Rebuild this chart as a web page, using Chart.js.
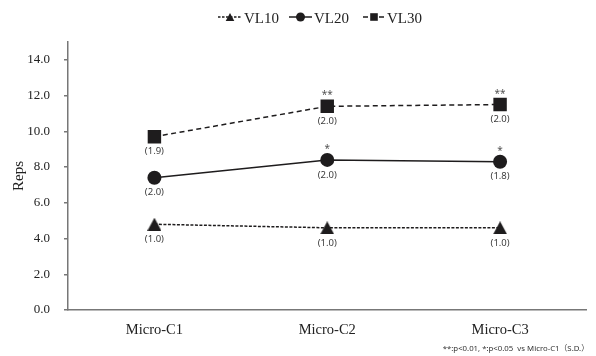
<!DOCTYPE html>
<html>
<head>
<meta charset="utf-8">
<script src="https://cdn.jsdelivr.net/npm/chart.js@4.4.0/dist/chart.umd.min.js"></script>
<style>
    html, body { margin: 0; padding: 0; background: #fff; }
    #wrap { width: 596px; height: 356px; }
</style>
</head>
<body>
<div id="wrap"><canvas id="chart"></canvas></div>
<script>
const categories = ['Micro-C1', 'Micro-C2', 'Micro-C3'];
const seriesNames = ['VL10', 'VL20', 'VL30'];
const vl10 = [4.8, 4.6, 4.6];
const vl20 = [7.4, 8.4, 8.3];
const vl30 = [9.7, 11.4, 11.5];
const sd10 = ['1.0', '1.0', '1.0'];
const sd20 = ['2.0', '2.0', '1.8'];
const sd30 = ['1.9', '2.0', '2.0'];
const sig10 = ['', '', ''];
const sig20 = ['', '*', '*'];
const sig30 = ['', '**', '**'];
const yTicks = [0, 2, 4, 6, 8, 10, 12, 14];
const footnote = '**:p<0.01, *:p<0.05  vs Micro-C1\uFF08S.D.\uFF09';

const ink = '#1e1c1d';
const serif = '"Liberation Serif", "DejaVu Serif", serif';
const sans = '"Noto Sans", "Noto Sans CJK JP", sans-serif';

// triangle centred on its bounding box, like the spreadsheet marker
function makeTriangle(w, h) {
    const c = document.createElement('canvas');
    c.width = w;
    c.height = h;
    const g = c.getContext('2d');
    g.fillStyle = ink;
    g.beginPath();
    g.moveTo(w / 2, 0);
    g.lineTo(w, h);
    g.lineTo(0, h);
    g.closePath();
    g.fill();
    return c;
}
const triBig = makeTriangle(14, 13);

const annotations = [
    { sd: sd10, sig: sig10 },
    { sd: sd20, sig: sig20 },
    { sd: sd30, sig: sig30 }
];

const pointLabels = {
    id: 'pointLabels',
    afterDatasetsDraw(chart) {
        const ctx = chart.ctx;
        ctx.save();
        ctx.textAlign = 'center';
        annotations.forEach((a, di) => {
            const meta = chart.getDatasetMeta(di);
            meta.data.forEach((pt, i) => {
                ctx.fillStyle = '#3c3c3c';
                ctx.font = '9.5px ' + sans;
                ctx.textBaseline = 'middle';
                ctx.fillText('(' + a.sd[i] + ')', pt.x, pt.y + 15);
                if (a.sig[i]) {
                    ctx.font = '10px ' + sans;
                    ctx.fillStyle = '#555';
                    ctx.textBaseline = 'alphabetic';
                    ctx.fillText(a.sig[i], pt.x, pt.y - 8);
                }
            });
        });
        ctx.restore();
    }
};

const legendAndNote = {
    id: 'legendAndNote',
    afterDraw(chart) {
        const ctx = chart.ctx;
        const y = 17;
        const items = [
            { x: 218, w: 24, dash: [2.5, 1.5], marker: 'tri' },
            { x: 289, w: 23, dash: [], marker: 'circle' },
            { x: 363, w: 22, dash: [5, 3], marker: 'rect' }
        ];
        ctx.save();
        items.forEach((it, i) => {
            ctx.strokeStyle = ink;
            ctx.lineWidth = 1.5;
            ctx.setLineDash(it.dash);
            ctx.beginPath();
            ctx.moveTo(it.x, y);
            ctx.lineTo(it.x + it.w, y);
            ctx.stroke();
            ctx.setLineDash([]);
            const cx = it.x + it.w / 2;
            ctx.fillStyle = ink;
            ctx.beginPath();
            if (it.marker === 'tri') {
                ctx.moveTo(cx, y - 4);
                ctx.lineTo(cx + 4.3, y + 4);
                ctx.lineTo(cx - 4.3, y + 4);
                ctx.closePath();
            } else if (it.marker === 'circle') {
                ctx.arc(cx, y, 4.5, 0, Math.PI * 2);
            } else {
                ctx.rect(cx - 3.8, y - 3.8, 7.6, 7.6);
            }
            ctx.fill();
            ctx.font = '15px ' + serif;
            ctx.textAlign = 'left';
            ctx.textBaseline = 'alphabetic';
            ctx.fillStyle = '#222';
            ctx.fillText(seriesNames[i], it.x + it.w + 2, y + 5.5);
        });

        ctx.font = '7.8px ' + sans;
        ctx.textAlign = 'right';
        ctx.textBaseline = 'middle';
        ctx.fillStyle = '#333';
        ctx.fillText(footnote, 589, 349);
        ctx.restore();
    }
};

const ctx = document.getElementById('chart').getContext('2d');
const chart = new Chart(ctx, {
    type: 'line',
    data: {
        labels: categories,
        datasets: [
            {
                label: seriesNames[0],
                data: vl10,
                borderColor: ink,
                backgroundColor: ink,
                borderWidth: 1.5,
                borderDash: [3, 1.5],
                pointStyle: triBig,
                pointRadius: 7,
                tension: 0
            },
            {
                label: seriesNames[1],
                data: vl20,
                borderColor: ink,
                backgroundColor: ink,
                borderWidth: 1.5,
                pointStyle: 'circle',
                pointRadius: 7,
                pointBorderWidth: 0,
                tension: 0
            },
            {
                label: seriesNames[2],
                data: vl30,
                borderColor: ink,
                backgroundColor: ink,
                borderWidth: 1.5,
                borderDash: [5, 3.5],
                pointStyle: 'rect',
                pointRadius: 9.5,
                pointBorderWidth: 0,
                tension: 0
            }
        ]
    },
    options: {
        responsive: true,
        maintainAspectRatio: false,
        animation: false,
        events: [],
        layout: { padding: { top: 42, left: 0, right: 0, bottom: 0 } },
        plugins: {
            legend: { display: false },
            tooltip: { enabled: false }
        },
        scales: {
            x: {
                offset: true,
                grid: { display: false, drawTicks: false },
                border: { color: '#777', width: 1.5 },
                ticks: {
                    color: '#222',
                    padding: 11,
                    font: { family: serif, size: 14.5 }
                },
                afterFit: (scale) => { scale.height = 46; }
            },
            y: {
                min: 0,
                max: 15,
                grid: {
                    drawOnChartArea: false,
                    drawTicks: true,
                    tickLength: 4,
                    color: '#777',
                    lineWidth: 1.5
                },
                border: { color: '#777', width: 1.5 },
                ticks: {
                    color: '#222',
                    padding: 14,
                    stepSize: 2,
                    font: { family: serif, size: 13 },
                    callback: (v) => v.toFixed(1)
                },
                afterBuildTicks: (scale) => {
                    scale.ticks = yTicks.map(v => ({ value: v }));
                },
                title: {
                    display: true,
                    text: 'Reps',
                    color: '#222',
                    padding: { top: 10, bottom: 0 },
                    font: { family: serif, size: 15 }
                },
                afterFit: (scale) => { scale.width = 68; }
            }
        }
    },
    plugins: [pointLabels, legendAndNote]
});
</script>
</body>
</html>
